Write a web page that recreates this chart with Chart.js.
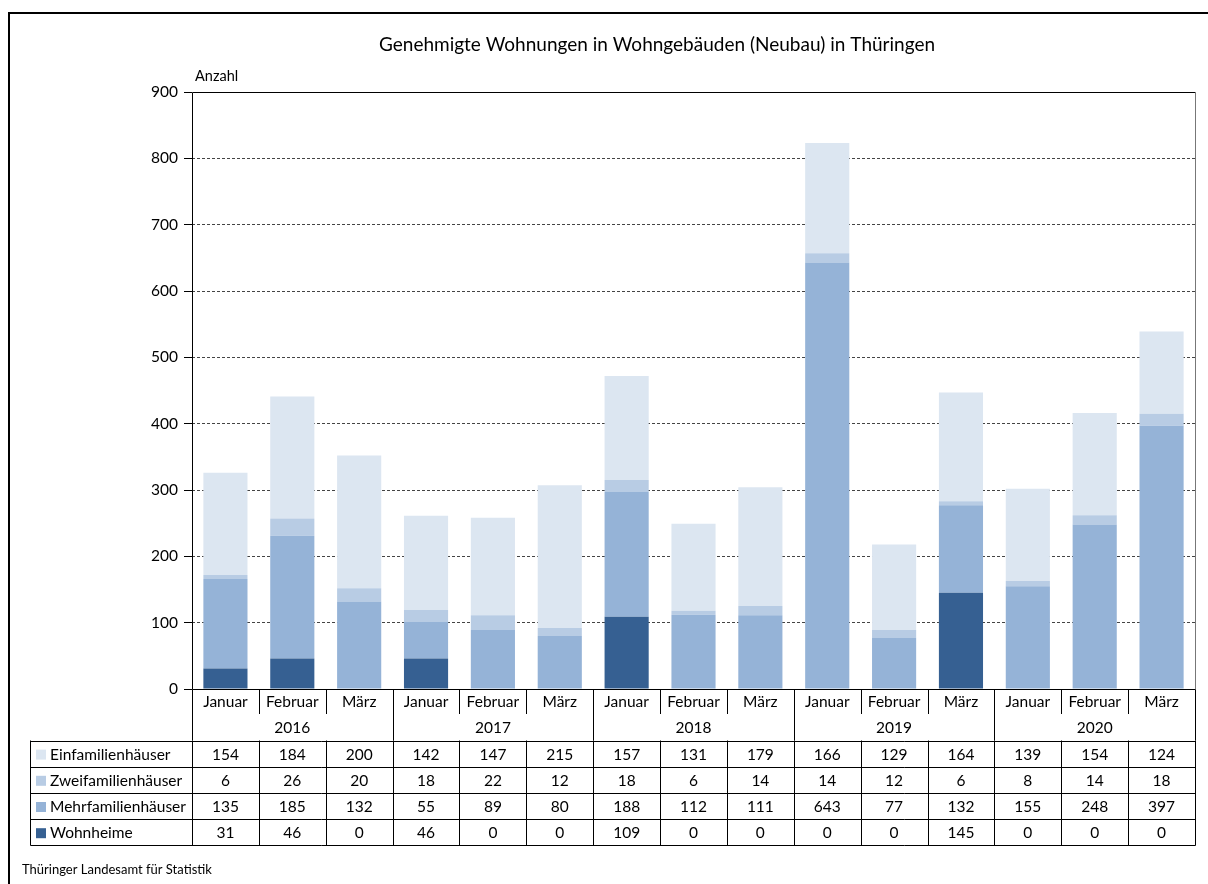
<!DOCTYPE html>
<html>
<head>
<meta charset="utf-8">
<script src="https://cdn.jsdelivr.net/npm/chart.js@4"></script>
<style>
  body { margin: 0; background: white; }
  #wrap { position: relative; width: 1208px; height: 884px; }
</style>
</head>
<body>
<div id="wrap"><canvas id="chart" width="1208" height="884"></canvas></div>
<script>
var months = ['Januar', 'Februar', 'März'];
var years = ['2016', '2017', '2018', '2019', '2020'];

var einfamilien = [154, 184, 200, 142, 147, 215, 157, 131, 179, 166, 129, 164, 139, 154, 124];
var zweifamilien = [6, 26, 20, 18, 22, 12, 18, 6, 14, 14, 12, 6, 8, 14, 18];
var mehrfamilien = [135, 185, 132, 55, 89, 80, 188, 112, 111, 643, 77, 132, 155, 248, 397];
var wohnheime = [31, 46, 0, 46, 0, 0, 109, 0, 0, 0, 0, 145, 0, 0, 0];

var yTicks = [0, 100, 200, 300, 400, 500, 600, 700, 800, 900];

var FONT = 'Lato, "Open Sans", sans-serif';

// categories: one per month of each year
var labels = [];
for (var i = 0; i < years.length; i++) {
    for (var j = 0; j < months.length; j++) {
        labels.push(months[j]);
    }
}

// table rows, top to bottom as in the reference
var rows = [
    {label: 'Einfamilienhäuser', data: einfamilien, color: '#dce6f1'},
    {label: 'Zweifamilienhäuser', data: zweifamilien, color: '#b8cce4'},
    {label: 'Mehrfamilienhäuser', data: mehrfamilien, color: '#95b3d7'},
    {label: 'Wohnheime', data: wohnheime, color: '#366092'},
];

function line(ctx, x1, y1, x2, y2) {
    ctx.beginPath();
    ctx.moveTo(x1, y1);
    ctx.lineTo(x2, y2);
    ctx.stroke();
}

// tablePlugin draws the frame, title, data table and footer.
var tablePlugin = {
    id: 'tablePlugin',
    afterDraw: function(chart) {
        var ctx = chart.ctx;
        var area = chart.chartArea;
        var xs = chart.scales.x;
        var n = labels.length;
        var step = xs.getPixelForValue(1) - xs.getPixelForValue(0);
        var left = Math.round(area.left) + 0.5;
        var right = Math.round(area.right) + 0.5;
        var top = Math.round(area.top) + 0.5;
        var bottom = Math.round(area.bottom) + 0.5;

        ctx.save();
        // outer frame
        ctx.strokeStyle = '#000';
        ctx.lineWidth = 2;
        line(ctx, 9, 13, 9, 884);
        line(ctx, 8, 13, 1208, 13);

        // plot frame
        ctx.lineWidth = 1;
        ctx.strokeStyle = '#000';
        line(ctx, left, top, right, top);
        line(ctx, left, top, left, bottom);
        line(ctx, left, bottom, right, bottom);
        ctx.strokeStyle = '#777';
        line(ctx, right, top, right, bottom);

        // title
        ctx.fillStyle = '#000';
        ctx.font = '19px ' + FONT;
        ctx.textAlign = 'center';
        ctx.textBaseline = 'middle';
        ctx.fillText('Genehmigte Wohnungen in Wohngebäuden (Neubau) in Thüringen', 657, 45);
        ctx.font = '14.5px ' + FONT;
        ctx.textAlign = 'left';
        ctx.fillText('Anzahl', 195, 76);

        // header: months and years
        var headBottom = 740.5;
        var rowH = 26.2;
        ctx.strokeStyle = '#000';
        ctx.font = '15.5px ' + FONT;
        ctx.textAlign = 'center';
        for (var i = 0; i < n; i++) {
            var cx = xs.getPixelForValue(i);
            ctx.fillText(labels[i], cx, 702);
            var bx = Math.round(cx + step / 2) + 0.5;
            if (i < n - 1) {
                if ((i + 1) % months.length == 0) {
                    line(ctx, bx, bottom, bx, headBottom);
                } else {
                    line(ctx, bx, bottom, bx, 714);
                }
            }
        }
        for (var y = 0; y < years.length; y++) {
            var c0 = xs.getPixelForValue(y * months.length + 1);
            ctx.fillText(years[y], c0, 728);
        }
        line(ctx, left, bottom, left, headBottom);
        line(ctx, right, bottom, right, headBottom);

        // data rows
        var tableLeft = 30.5;
        var tableBottom = headBottom + rowH * rows.length;
        for (var r = 0; r <= rows.length; r++) {
            var ly = Math.round(headBottom + rowH * r) + 0.5;
            line(ctx, tableLeft, ly, right, ly);
        }
        line(ctx, tableLeft, headBottom, tableLeft, Math.round(tableBottom) + 0.5);
        line(ctx, left, headBottom, left, Math.round(tableBottom) + 0.5);
        for (var i = 0; i < n; i++) {
            var bx = Math.round(xs.getPixelForValue(i) + step / 2) + 0.5;
            line(ctx, bx, headBottom, bx, Math.round(tableBottom) + 0.5);
        }
        for (var r = 0; r < rows.length; r++) {
            var cy = headBottom + rowH * r + rowH / 2 + 1;
            ctx.fillStyle = rows[r].color;
            ctx.fillRect(36, cy - 5, 10, 10);
            ctx.fillStyle = '#000';
            ctx.textAlign = 'left';
            ctx.fillText(rows[r].label, 50, cy);
            ctx.textAlign = 'center';
            for (var i = 0; i < n; i++) {
                ctx.fillText(String(rows[r].data[i]), xs.getPixelForValue(i), cy);
            }
        }

        // footer
        ctx.font = '13px ' + FONT;
        ctx.textAlign = 'left';
        ctx.fillText('Thüringer Landesamt für Statistik', 22, 870);
        ctx.restore();
    }
};

var datasets = [];
for (var r = rows.length - 1; r >= 0; r--) {
    datasets.push({
        label: rows[r].label,
        data: rows[r].data,
        backgroundColor: rows[r].color,
        borderWidth: 0,
        barPercentage: 0.66,
        categoryPercentage: 1.0,
    });
}

var conf = {
    type: 'bar',
    data: {labels: labels, datasets: datasets},
    options: {
        responsive: false,
        animation: false,
        layout: {padding: {left: 0, right: 13, top: 92, bottom: 195}},
        plugins: {
            legend: {display: false},
            tooltip: {enabled: false},
        },
        scales: {
            x: {
                stacked: true,
                display: false,
            },
            y: {
                stacked: true,
                min: 0,
                max: 900,
                afterFit: function(scale) { scale.width = 192; },
                afterBuildTicks: function(scale) {
                    scale.ticks = yTicks.map(function(v) { return {value: v}; });
                },
                ticks: {
                    color: '#000',
                    font: {family: FONT, size: 15.5},
                    padding: 6,
                },
                border: {display: false, dash: [3, 2]},
                grid: {
                    color: function(c) {
                        if (c.tick && (c.tick.value == 0 || c.tick.value == 900)) return 'rgba(0,0,0,0)';
                        return '#444';
                    },
                    tickColor: '#000',
                    tickLength: 8,
                    tickBorderDash: [],
                },
            },
        },
    },
    plugins: [tablePlugin],
};

var chart = new Chart(document.getElementById('chart').getContext('2d'), conf);
</script>
</body>
</html>
